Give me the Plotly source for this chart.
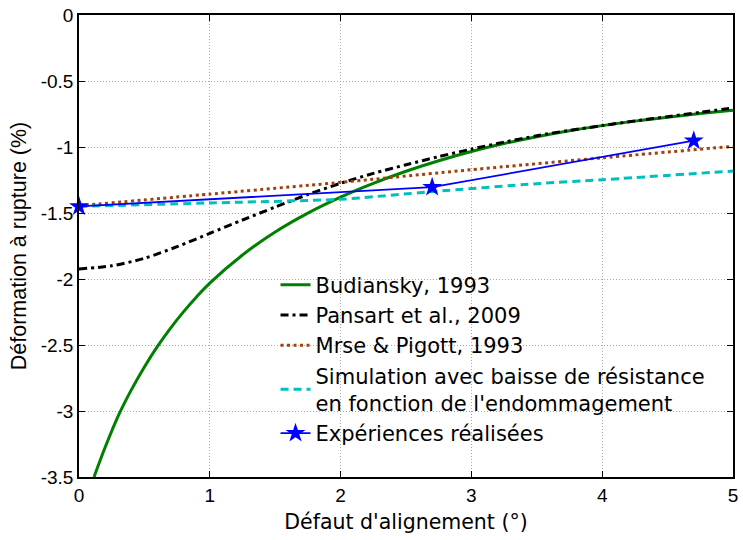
import plotly.graph_objects as go

# Misalignment angle (deg) vs. strain at failure (%)
budiansky_x = [0.115, 0.2, 0.3, 0.4, 0.5, 0.6, 0.7, 0.8, 0.9, 1.0, 1.25, 1.5, 1.75, 2.0,
               2.25, 2.5, 2.75, 3.0, 3.25, 3.5, 3.75, 4.0, 4.25, 4.5, 4.75, 5.0]
budiansky_y = [-3.5, -3.275, -3.037, -2.84, -2.666, -2.511, -2.372, -2.247, -2.134, -2.031, -1.818, -1.644, -1.501, -1.38,
               -1.276, -1.184, -1.104, -1.034, -0.974, -0.922, -0.877, -0.838, -0.804, -0.774, -0.747, -0.722]

pansart_x = [0, 0.25, 0.5, 0.75, 1.0, 1.25, 1.5, 1.75, 2.0, 2.25, 2.5, 2.75, 3.0,
             3.25, 3.5, 3.75, 4.0, 4.25, 4.5, 4.75, 5.0]
pansart_y = [-1.924, -1.90, -1.843, -1.755, -1.654, -1.553, -1.455, -1.36, -1.275, -1.20, -1.135, -1.073, -1.016,
             -0.963, -0.915, -0.874, -0.838, -0.803, -0.77, -0.737, -0.705]

mrse_x = [0, 1, 2, 3, 4, 5]
mrse_y = [-1.445, -1.357, -1.268, -1.172, -1.082, -0.995]

simulation_x = [0, 1, 2, 2.7, 3.5, 4, 5]
simulation_y = [-1.45, -1.424, -1.396, -1.338, -1.278, -1.248, -1.182]

experiments_x = [0, 2.7, 4.7]
experiments_y = [-1.45, -1.304, -0.952]

x_tick_values = [0, 1, 2, 3, 4, 5]
x_tick_labels = ["0", "1", "2", "3", "4", "5"]
y_tick_values = [0, -0.5, -1, -1.5, -2, -2.5, -3, -3.5]
y_tick_labels = ["0", "-0.5", "-1", "-1.5", "-2", "-2.5", "-3", "-3.5"]

SANS = "Liberation Sans, Arial, Helvetica, sans-serif"
WIDE = "DejaVu Sans, Verdana, sans-serif"

fig = go.Figure()

fig.add_trace(go.Scatter(
    x=budiansky_x, y=budiansky_y, mode="lines", name="Budiansky, 1993",
    line=dict(color="#008000", width=3, shape="spline", smoothing=1.0),
))
fig.add_trace(go.Scatter(
    x=pansart_x, y=pansart_y, mode="lines", name="Pansart et al., 2009",
    line=dict(color="#000000", width=3, dash="8px,4px,3px,4px", shape="spline", smoothing=0.8),
))
fig.add_trace(go.Scatter(
    x=mrse_x, y=mrse_y, mode="lines", name="Mrse & Pigott, 1993",
    line=dict(color="#A0410D", width=3, dash="3px,3.5px", shape="spline", smoothing=0.6),
))
fig.add_trace(go.Scatter(
    x=simulation_x, y=simulation_y, mode="lines",
    name="Simulation avec baisse de résistance<br>en fonction de l'endommagement",
    line=dict(color="#00BFBF", width=3, dash="8px,5px", shape="spline", smoothing=0.6),
))
fig.add_trace(go.Scatter(
    x=experiments_x, y=experiments_y, mode="lines+markers", name="Expériences réalisées",
    line=dict(color="#0000FF", width=1.8),
    marker=dict(symbol="star", size=15, color="#0000FF", line=dict(width=0)),
    cliponaxis=False,
))

axis_common = dict(
    showline=True, linecolor="#000000", linewidth=1.5, mirror="ticks",
    ticks="inside", ticklen=6, tickwidth=1, tickcolor="#000000",
    showgrid=True, gridcolor="#a8a8a8", gridwidth=1, griddash="1px,2px",
    zeroline=False, tickfont=dict(family=SANS, size=19, color="#000000"),
)

fig.update_xaxes(
    range=[0, 5], tickmode="array", tickvals=x_tick_values, ticktext=x_tick_labels,
    title=dict(text="Défaut d'alignement (°)", font=dict(family=WIDE, size=20.5, color="#000000"), standoff=10),
    **axis_common,
)
fig.update_yaxes(
    range=[-3.5, 0], tickmode="array", tickvals=y_tick_values, ticktext=y_tick_labels,
    title=dict(text="Déformation à rupture (%)", font=dict(family=SANS, size=21.5, color="#000000"), standoff=8),
    **axis_common,
)

fig.update_layout(
    width=743, height=540,
    margin=dict(l=79, r=5, t=15, b=63),
    paper_bgcolor="#ffffff", plot_bgcolor="#ffffff",
    font=dict(family=WIDE, size=21, color="#000000"),
    showlegend=True,
    legend=dict(
        x=0.3005, y=0.46, xanchor="left", yanchor="top",
        bgcolor="rgba(0,0,0,0)", borderwidth=0,
        font=dict(family=WIDE, size=21, color="#000000"),
        itemwidth=30, tracegroupgap=0,
    ),
)

fig.write_html("out.html")
